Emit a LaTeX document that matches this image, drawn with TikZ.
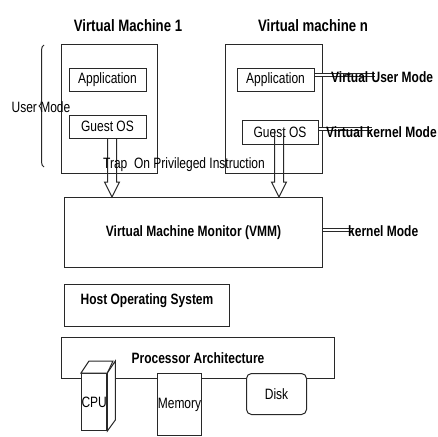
\documentclass[tikz,border=0pt]{standalone}
\usepackage{fontspec}
\setmainfont[FakeStretch=0.8]{Liberation Sans}
\usepackage{tikz}
\usetikzlibrary{calc,decorations.pathreplacing}
\definecolor{vmgray}{RGB}{40,40,40}
\def\txt{\fontsize{15}{17}\selectfont}
\def\boldtxt{\fontsize{15}{17}\selectfont\bfseries}
\def\titletxt{\fontsize{16.5}{19}\selectfont\bfseries}
\def\traparrow#1#2{%
  \draw[vmline] ($(#1)+(-4.5,0)$) -- ($(#2)+(-4.5,-15)$) -- ($(#2)+(-7.5,-15)$) -- (#2)
    -- ($(#2)+(7.5,-15)$) -- ($(#2)+(4.5,-15)$) -- ($(#1)+(4.5,0)$);}
\tikzset{
  vmline/.style={draw=vmgray, line width=1pt},
  box/.style={vmline, rectangle, inner sep=0pt, fill=white},
  modeline/.style={draw=vmgray, double, double distance=2pt, line width=0.7pt}
}

\begin{document}
\begin{tikzpicture}[x=1pt,y=-1pt]
\fill[white] (0,0) rectangle (438,432);
% virtual machines
\node[box, minimum width=96, minimum height=129, anchor=north west] (vmone) at (61,44) {};
\node[box, minimum width=97, minimum height=129, anchor=north west] (vmn) at (225,44) {};
\node[font=\titletxt] (titleone) at (128,26) {Virtual Machine 1};
\node[font=\titletxt] (titlen) at (313,26) {Virtual machine n};
\node[box, font=\txt, minimum width=77, minimum height=23] (appone) at (107.5,79.5) {Application};
\node[box, font=\txt, minimum width=77, minimum height=23] (gosone) at (107.5,126.5) {Guest OS};
\node[box, font=\txt, minimum width=77, minimum height=23] (appn) at (275.5,79.5) {Application};
\node[box, font=\txt, minimum width=76, minimum height=24] (gosn) at (280,132) {Guest OS};
% user mode brace
\draw[vmline, decorate, decoration={brace, amplitude=5pt}] (44,167) -- (44,45);
\node[font=\txt] (usermode) at (41,107) {User Mode};
% monitor and host
\node[box, font=\boldtxt, minimum width=258, minimum height=70, anchor=north west] (vmm) at (64,197) {Virtual Machine Monitor (VMM)};
\node[box, font=\boldtxt, minimum width=165, minimum height=42, text depth=13pt, anchor=north west] (hostos) at (64,284) {Host Operating System};
% trap arrows
\coordinate (trapone) at (112,138);
\coordinate (trapn) at (279,129);
\coordinate (vmmone) at (trapone |- vmm.north);
\coordinate (vmmn) at (trapn |- vmm.north);
\traparrow{trapone}{vmmone}
\traparrow{trapn}{vmmn}
\node[font=\txt] (trap) at (184,165) {Trap\ \ On Privileged Instruction};
% modes
\coordinate (vum) at (375,75);
\coordinate (vkm) at (372,129);
\coordinate (km) at (353,230);
\draw[modeline] (appn.east |- vum) -- (vum);
\draw[modeline] (gosn.east |- vkm) -- (vkm);
\draw[modeline] (vmm.east |- km) -- (km);
\node[font=\boldtxt, anchor=west, inner sep=0pt] (vumtext) at (331,77) {Virtual User Mode};
\node[font=\boldtxt, anchor=west, inner sep=0pt] (vkmtext) at (326,132) {Virtual kernel Mode};
\node[font=\boldtxt, anchor=west, inner sep=0pt] (kmtext) at (348,231) {kernel Mode};
% hardware
\node[box, font=\boldtxt, minimum width=273, minimum height=41, anchor=north west] (proc) at (61,337) {Processor Architecture};
\node[box, font=\txt, minimum width=24, minimum height=57, anchor=north west] (cpu) at (81,373) {CPU};
\draw[box] (cpu.north west) -- ++(8,-12) -- ++(24,0) -- (cpu.north east) -- cycle;
\draw[box] (cpu.north east) -- ++(8,-12) -- ++(0,59) -- (cpu.south east) -- cycle;
\node[box, font=\txt, minimum width=44, minimum height=62, anchor=north west] (mem) at (157,373) {Memory};
\node[box, font=\txt, rounded corners=5pt, minimum width=60, minimum height=41, anchor=north west] (disk) at (246,373) {Disk};
\useasboundingbox (0,0) rectangle (438,432);
\end{tikzpicture}
\end{document}
